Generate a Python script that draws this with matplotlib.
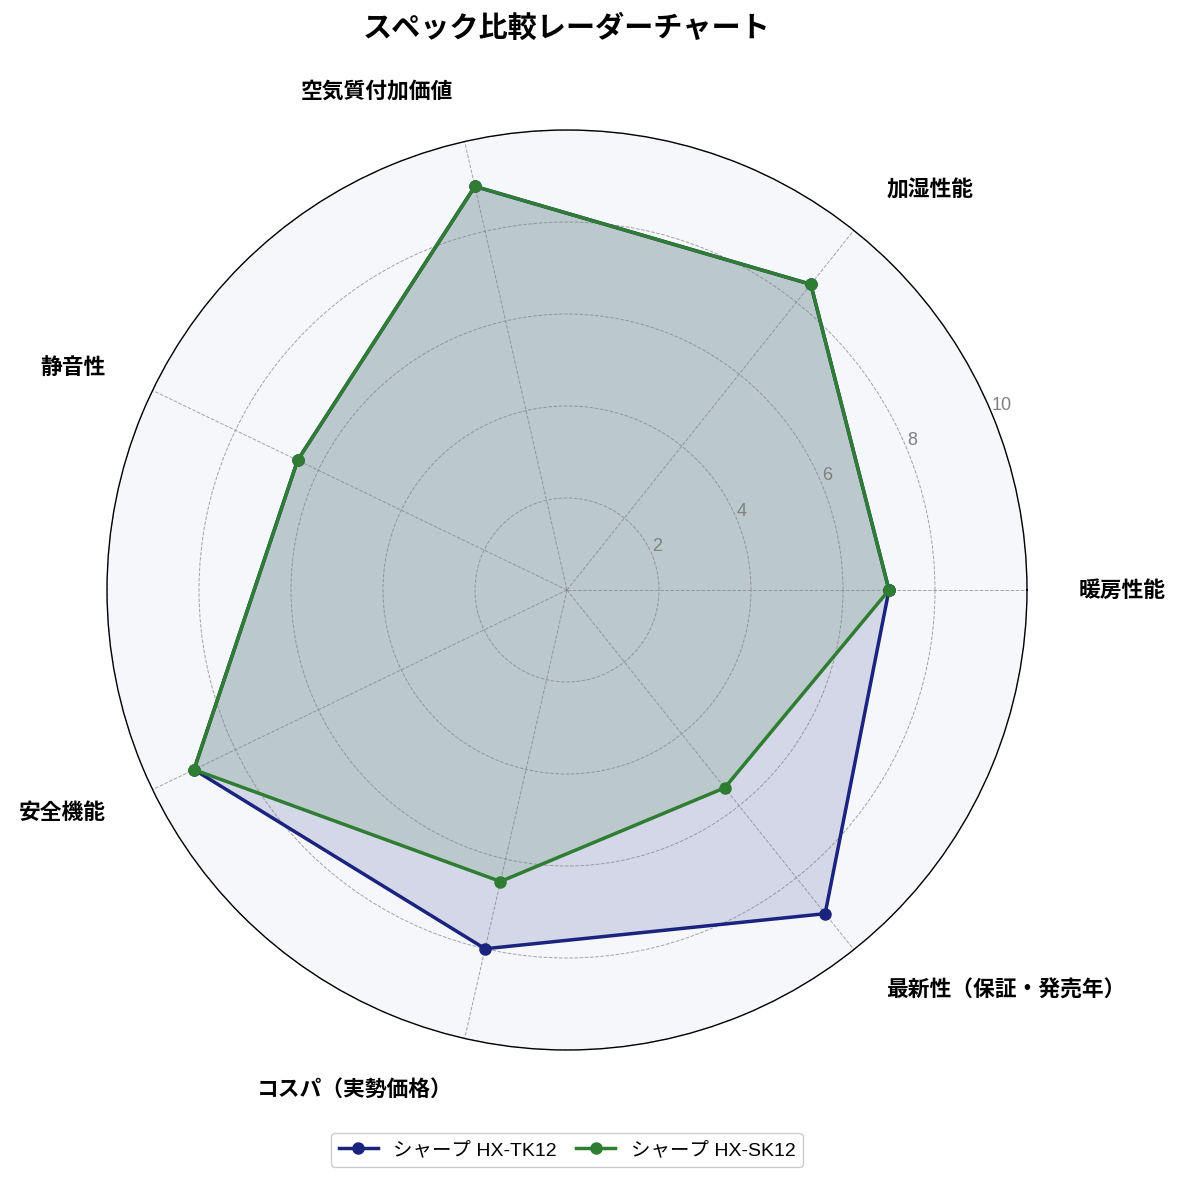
import numpy as np
import matplotlib
matplotlib.use("Agg")
import matplotlib.pyplot as plt

plt.rcParams['font.family'] = ['Noto Sans CJK JP', 'DejaVu Sans']
latin_first = ['Liberation Sans', 'Noto Sans CJK JP']

categories = ['暖房性能', '加湿性能', '空気質付加価値', '静音性', '安全機能',
              'コスパ（実勢価格）', '最新性（保証・発売年）']
tk12 = [7.0, 8.5, 9.0, 6.5, 9.0, 8.0, 9.0]
sk12 = [7.0, 8.5, 9.0, 6.5, 9.0, 6.5, 5.5]
series_names = ['シャープ HX-TK12', 'シャープ HX-SK12']
r_ticks = [2, 4, 6, 8, 10]

n = len(categories)
angles = np.linspace(0, 2 * np.pi, n, endpoint=False)
ang_closed = np.append(angles, angles[0])

fig = plt.figure(figsize=(11.85, 11.82), dpi=100)
ax = fig.add_axes([107 / 1185, 132 / 1182, 920 / 1185, 920 / 1182], polar=True)
ax.set_facecolor('#f5f7fa')

colors = ['#1a237e', '#2e7d32']
for vals, name, c in zip([tk12, sk12], series_names, colors):
    v = np.append(vals, vals[0])
    ax.plot(ang_closed, v, color=c, linewidth=2.5, marker='o', markersize=8, label=name)
    ax.fill(ang_closed, v, color=c, alpha=0.15)

ax.set_ylim(0, 10)
ax.set_yticks(r_ticks)
ax.set_yticklabels([str(t) for t in r_ticks], color='gray', fontsize=13,
                   family=latin_first)
ax.set_rlabel_position(22.5)
ax.set_xticks(angles)
ax.set_xticklabels([])
ax.grid(True, color='gray', linestyle='--', linewidth=0.7, alpha=0.7)
ax.spines['polar'].set_linewidth(1.0)

# category labels placed just outside the circle
for a, lab in zip(angles, categories):
    ha = 'left' if np.cos(a) > 0.01 else 'right'
    ax.text(a, 11.13, lab, ha=ha, va='center', fontsize=15.7, fontweight='bold',
            clip_on=False)

fig.text(0.4785, 0.976, 'スペック比較レーダーチャート', ha='center', va='center',
         fontsize=21, fontweight='bold')

fig.legend(loc='center', bbox_to_anchor=(0.4785, 1 - 1150 / 1182), ncol=2,
           prop={'family': latin_first, 'size': 14}, columnspacing=1.0,
           framealpha=1.0)

fig.savefig('out.png', dpi=100)
